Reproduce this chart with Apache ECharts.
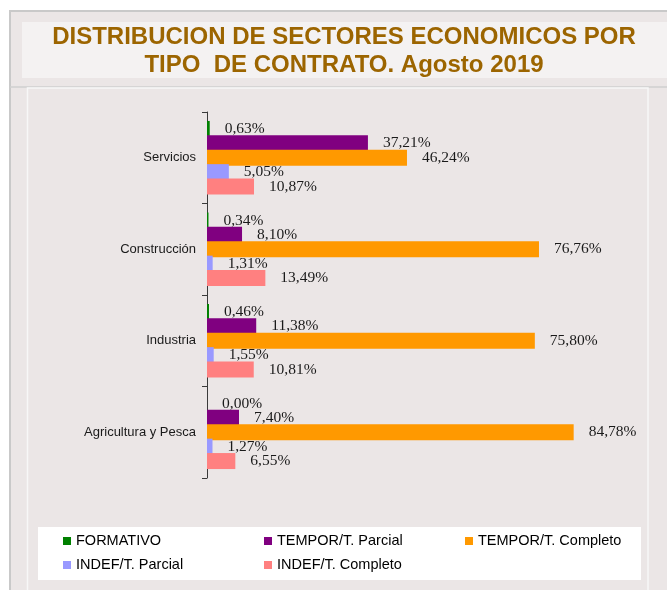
<!DOCTYPE html>
<html>
<head>
<meta charset="utf-8">
<script src="https://cdn.jsdelivr.net/npm/echarts@6/dist/echarts.min.js"></script>
<style>
html,body{margin:0;padding:0;background:#ffffff;}
#chart{width:667px;height:590px;}
</style>
</head>
<body>
<div id="chart"></div>
<script>
const categories = ['Servicios', 'Construcción', 'Industria', 'Agricultura y Pesca'];
const seriesNames = ['FORMATIVO', 'TEMPOR/T. Parcial', 'TEMPOR/T. Completo', 'INDEF/T. Parcial', 'INDEF/T. Completo'];
const formativo = [0.63, 0.34, 0.46, 0.00];
const temporParcial = [37.21, 8.10, 11.38, 7.40];
const temporCompleto = [46.24, 76.76, 75.80, 84.78];
const indefParcial = [5.05, 1.31, 1.55, 1.27];
const indefCompleto = [10.87, 13.49, 10.81, 6.55];
const colors = ['#008000', '#800080', '#ff9900', '#9999ff', '#ff8080'];
const titleText = 'DISTRIBUCION DE SECTORES ECONOMICOS POR\nTIPO  DE CONTRATO. Agosto 2019';

const values = [formativo, temporParcial, temporCompleto, indefParcial, indefCompleto];

const chart = echarts.init(document.getElementById('chart'), null, {renderer: 'canvas'});

const series = seriesNames.map((name, i) => ({
  name: name,
  type: 'bar',
  data: values[i],
  barWidth: 16,
  barGap: '-10%',
  itemStyle: {color: colors[i]},
  label: {
    show: true,
    position: 'right',
    distance: 15,
    fontFamily: '"Liberation Serif", "Times New Roman", serif',
    fontSize: 15.5,
    color: '#1a1a1a',
    formatter: p => p.value.toFixed(2).replace('.', ',') + '%'
  }
}));

chart.setOption({
  animation: false,
  backgroundColor: '#ffffff',
  graphic: [
    {type: 'rect', silent: true, z: -10, shape: {x: 10, y: 11, width: 670, height: 600},
      style: {fill: '#ebe6e6', stroke: '#c9c9c9', lineWidth: 2}},
    {type: 'rect', silent: true, z: -9, shape: {x: 22, y: 22, width: 660, height: 56},
      style: {fill: '#f4f2f2'}},
    {type: 'line', silent: true, z: -9, shape: {x1: 10, y1: 87, x2: 667, y2: 87},
      style: {stroke: '#cfcfcf', lineWidth: 1.5}},
    {type: 'rect', silent: true, z: -8, shape: {x: 27.5, y: 88, width: 620.5, height: 520},
      style: {fill: '#ebe6e6', stroke: '#f7f7f7', lineWidth: 1.5}},
    {type: 'rect', silent: true, z: -7, shape: {x: 38, y: 527, width: 603, height: 53},
      style: {fill: '#ffffff'}}
  ],
  title: {
    text: titleText,
    left: 344,
    top: 23,
    textAlign: 'center',
    padding: 0,
    textStyle: {
      fontFamily: '"Liberation Sans", Arial, sans-serif',
      fontWeight: 'bold',
      fontSize: 24,
      lineHeight: 28,
      color: '#9c6500'
    }
  },
  legend: {
    data: seriesNames,
    left: 63,
    top: 529,
    width: 612,
    padding: 0,
    itemGap: 0,
    itemWidth: 8,
    itemHeight: 8,
    icon: 'rect',
    textStyle: {
      fontFamily: '"Liberation Sans", Arial, sans-serif',
      fontSize: 14.5,
      color: '#000000',
      width: 188,
      lineHeight: 24
    }
  },
  grid: {left: 207, top: 112, width: 432.5, height: 366, containLabel: false},
  xAxis: {
    type: 'value',
    min: 0,
    max: 100,
    show: false
  },
  yAxis: {
    type: 'category',
    data: categories,
    inverse: true,
    axisLine: {show: true, lineStyle: {color: '#3a3a3a', width: 1}},
    axisTick: {show: true, length: 5, inside: false, lineStyle: {color: '#3a3a3a'}},
    axisLabel: {
      margin: 11,
      fontFamily: '"Liberation Sans", Arial, sans-serif',
      fontSize: 13,
      color: '#1a1a1a'
    },
    splitLine: {show: false}
  },
  series: series
});
</script>
</body>
</html>
